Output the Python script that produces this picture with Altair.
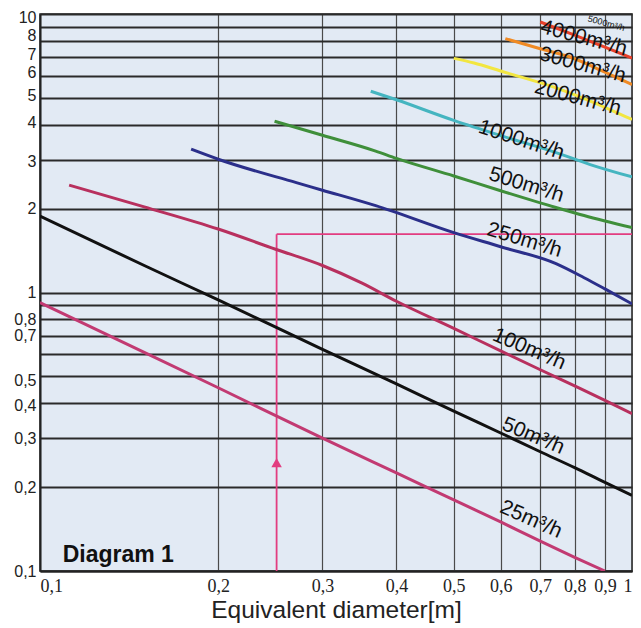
import altair as alt
import pandas as pd

# ---- axis ticks ----
x_ticks = [0.1, 0.2, 0.3, 0.4, 0.5, 0.6, 0.7, 0.8, 0.9, 1.0]
y_ticks = [0.1, 0.2, 0.3, 0.4, 0.5, 0.6, 0.7, 0.8, 0.9, 1, 2, 3, 4, 5, 6, 7, 8, 9, 10]
# small vertical nudges of some y labels, as printed
y_nudge_values = [10, 8, 7, 6, 5, 4, 3, 0.5, 0.4]
y_nudge_px = [3, -5, -3, -3, -2, -2, 2, 4, 2]

# ---- curves (equivalent diameter [m] -> value) ----
names = ["25", "50", "100", "250", "500", "1000", "2000", "3000", "4000"]
colors = ["#c23a72", "#111111", "#b8305e", "#2b2f8a", "#3f8f3a", "#45b5c0", "#f2e640", "#f08a24", "#e8402a"]

c25_x = [0.1, 0.15, 0.2, 0.3, 0.4, 0.5, 0.6, 0.7, 0.8, 0.9]
c25_y = [0.92, 0.61, 0.455, 0.30, 0.225, 0.18, 0.15, 0.128, 0.112, 0.1]

c50_x = [0.1, 0.15, 0.2, 0.3, 0.4, 0.5, 0.6, 0.7, 0.8, 0.9, 1.0]
c50_y = [1.88, 1.25, 0.94, 0.625, 0.47, 0.375, 0.313, 0.268, 0.235, 0.208, 0.187]

c100_x = [0.112, 0.15, 0.2, 0.25, 0.3, 0.35, 0.4, 0.5, 0.6, 0.7, 0.8, 0.9, 1.0]
c100_y = [2.43, 2.03, 1.69, 1.43, 1.25, 1.08, 0.93, 0.743, 0.617, 0.528, 0.462, 0.41, 0.367]

c250_x = [0.18, 0.2, 0.271, 0.3, 0.369, 0.5, 0.6, 0.744, 0.83, 0.9, 1.0]
c250_y = [3.27, 3.01, 2.48, 2.33, 2.05, 1.64, 1.46, 1.27, 1.13, 1.03, 0.91]

c500_x = [0.249, 0.3, 0.369, 0.4, 0.5, 0.6, 0.744, 0.83, 1.0]
c500_y = [4.12, 3.67, 3.22, 3.03, 2.62, 2.32, 2.02, 1.89, 1.71]

c1000_x = [0.362, 0.4, 0.5, 0.6, 0.744, 0.85, 1.0]
c1000_y = [5.28, 4.92, 4.15, 3.66, 3.18, 2.88, 2.6]

c2000_x = [0.5, 0.541, 0.6, 0.744, 0.85, 1.0]
c2000_y = [6.93, 6.67, 6.24, 5.43, 4.87, 4.18]

c3000_x = [0.611, 0.7, 0.794, 0.9, 1.0]
c3000_y = [8.16, 7.5, 6.95, 6.18, 5.58]

c4000_x = [0.70, 0.8, 0.9, 1.0]
c4000_y = [9.36, 8.4, 7.6, 6.95]

all_x = [c25_x, c50_x, c100_x, c250_x, c500_x, c1000_x, c2000_x, c3000_x, c4000_x]
all_y = [c25_y, c50_y, c100_y, c250_y, c500_y, c1000_y, c2000_y, c3000_y, c4000_y]

# ---- curve labels ----
label_text = ["25m³/h", "50m³/h", "100m³/h", "250m³/h", "500m³/h", "1000m³/h",
              "2000m³/h", "3000m³/h", "4000m³/h", "5000m³/h"]
label_x = [0.675, 0.681, 0.67, 0.658, 0.663, 0.65, 0.81, 0.825, 0.829, 0.905]
label_y = [0.153, 0.305, 0.626, 1.54, 2.43, 3.52, 4.99, 6.55, 8.19, 9.26]
label_angle = [24, 23, 23, 17, 17, 18, 15, 15, 15, 15]
label_size = [21, 21, 21, 21, 21, 21, 21, 21, 21, 9]

# ---- example reading (pink) ----
ex_d = [0.251]
ex_v = [1.62]
arrow_v = [0.245]

rows = []
for n, xs, ys in zip(names, all_x, all_y):
    for i, (a, b) in enumerate(zip(xs, ys)):
        rows.append({"curve": n, "d": a, "v": b, "i": i})
curves_df = pd.DataFrame(rows)

labels_df = pd.DataFrame({"t": label_text, "d": label_x, "v": label_y,
                          "a": label_angle, "s": label_size})

FONT = "Liberation Sans"
NARROW = "Liberation Sans Narrow"
PINK = "#e23d80"

xscale = alt.Scale(type="log", domain=[0.1, 1.0], nice=False)
yscale = alt.Scale(type="log", domain=[0.1, 10], nice=False)

y_label_expr = ("(abs(datum.value-9)<1e-6 || abs(datum.value-0.9)<1e-6 || abs(datum.value-0.6)<1e-6) ? '' : "
                "replace(format(datum.value, datum.value >= 1 ? 'd' : '.1f'), '.', ',')")
x_label_expr = "datum.value >= 1 ? '1' : replace(format(datum.value, '.1f'), '.', ',')"

y_offset_cond = [
    {"test": f"abs(datum.value - {v}) < 1e-6", "value": p}
    for v, p in zip(y_nudge_values, y_nudge_px)
]

xaxis = alt.Axis(values=x_ticks, grid=True, gridColor="#4a4a4a", gridWidth=1.2,
                 domainColor="#222", domainWidth=2, ticks=False, labelFlush=True,
                 labelOverlap=False,
                 labelPadding=6, labelFont=NARROW, labelFontSize=18, labelColor="#222",
                 labelExpr=x_label_expr, title="Equivalent diameter[m]",
                 titleFont=FONT, titleFontSize=24.5, titleFontWeight="normal",
                 titleColor="#222", titlePadding=3)
yaxis = alt.Axis(values=y_ticks, grid=True, gridColor="#2a2a2a", gridWidth=1.8,
                 domainColor="#222", domainWidth=2, ticks=False, labelOverlap=False,
                 labelPadding=4, labelFont=FONT, labelFontSize=16, labelColor="#222",
                 labelBaseline="middle",
                 labelOffset={"condition": y_offset_cond, "value": 0},
                 labelExpr=y_label_expr, title=None)

base = alt.Chart(curves_df)

lines = base.mark_line(strokeWidth=3, interpolate="monotone", clip=True).encode(
    x=alt.X("d:Q", scale=xscale, axis=xaxis),
    y=alt.Y("v:Q", scale=yscale, axis=yaxis),
    color=alt.Color("curve:N", scale=alt.Scale(domain=names, range=colors), legend=None),
    order=alt.Order("i:Q"),
)

vrule = alt.Chart(pd.DataFrame({"d": ex_d, "v0": [0.1], "v1": ex_v})).mark_rule(
    color=PINK, strokeWidth=1.8).encode(x="d:Q", y="v0:Q", y2="v1:Q")
hrule = alt.Chart(pd.DataFrame({"d0": ex_d, "d1": [1.0], "v": ex_v})).mark_rule(
    color=PINK, strokeWidth=1.8).encode(x="d0:Q", x2="d1:Q", y="v:Q")
arrow = alt.Chart(pd.DataFrame({"d": ex_d, "v": arrow_v})).mark_point(
    shape="triangle-up", filled=True, size=110, color=PINK, opacity=1).encode(
    x="d:Q", y="v:Q")

texts = alt.Chart(labels_df).mark_text(font=FONT, color="#111", align="center",
                                      baseline="middle").encode(
    x="d:Q", y="v:Q", text="t:N",
    angle=alt.Angle("a:Q", scale=None),
    size=alt.Size("s:Q", scale=None),
)

diag = alt.Chart(pd.DataFrame({"d": [0.1092], "v": [0.1074], "t": ["Diagram 1"]})).mark_text(
    font=FONT, fontSize=23, fontWeight="bold", color="#111", align="left",
    baseline="alphabetic").encode(x="d:Q", y="v:Q", text="t:N")

chart = alt.layer(vrule, hrule, lines, arrow, texts, diag).properties(
    width=592, height=557,
    autosize=alt.AutoSizeParams(type="none"),
    padding={"left": 32, "top": 6, "right": 1, "bottom": 52},
    background="white",
).configure_view(fill="#e2eaf4", stroke="#222", strokeWidth=1.5)

chart.save("out.html", embed_options={"renderer": "svg", "actions": False})
